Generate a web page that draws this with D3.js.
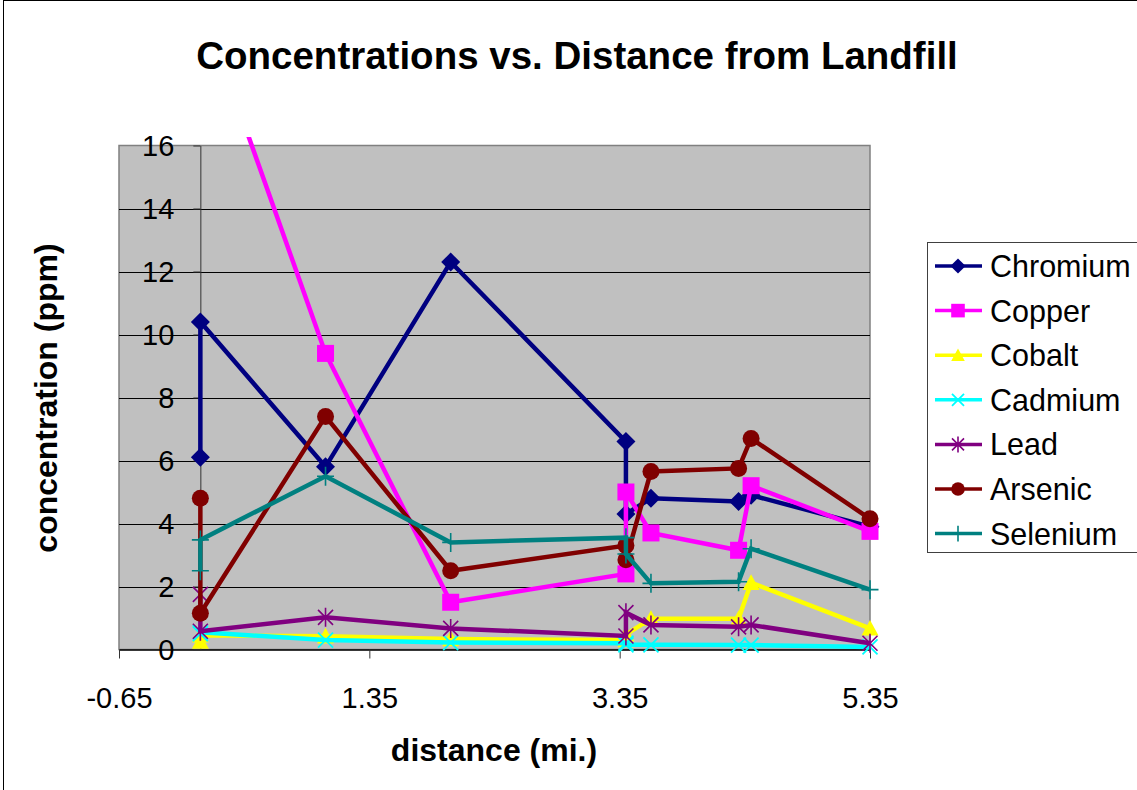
<!DOCTYPE html>
<html><head><meta charset="utf-8">
<script src="https://cdn.jsdelivr.net/npm/d3@7"></script>
<style>
body{margin:0;background:#fff}
svg{display:block;font-family:"Liberation Sans",Arial,sans-serif}
</style>
</head><body>
<svg id="chart" width="1137" height="790"></svg>
<script>
// ---------- data ----------
const distances = [0, 0, 1, 2, 3.4, 3.4, 3.6, 4.3, 4.4, 5.35];
const seriesNames = ["Chromium", "Copper", "Cobalt", "Cadmium", "Lead", "Arsenic", "Selenium"];
const chromium = [6.1, 10.4, 5.8, 12.3, 6.6, 4.3, 4.8, 4.7, 4.9, 3.9];
const copper   = [18.5, 20.6, 9.4, 1.5, 2.4, 5.0, 3.7, 3.15, 5.2, 3.75];
const cobalt   = [0.25, 0.45, 0.42, 0.33, 0.3, 0.48, 0.98, 0.98, 2.12, 0.67];
const cadmium  = [0.5, 0.55, 0.3, 0.22, 0.2, 0.15, 0.15, 0.14, 0.14, 0.08];
const lead     = [1.75, 0.58, 1.02, 0.67, 0.43, 1.17, 0.78, 0.72, 0.78, 0.2];
const arsenic  = [4.8, 1.15, 7.4, 2.5, 3.3, 2.85, 5.65, 5.75, 6.7, 4.15];
const selenium = [2.5, 3.48, 5.5, 3.4, 3.55, 3.03, 2.1, 2.15, 3.2, 1.9];
const seriesColors = ["#000080", "#FF00FF", "#FFFF00", "#00FFFF", "#800080", "#800000", "#008080"];
const seriesMarkers = ["diamond", "square", "triangle", "x", "asterisk", "circle", "plus"];
const yTickValues = [0, 2, 4, 6, 8, 10, 12, 14, 16];
const xTickValues = [-0.65, 1.35, 3.35, 5.35];
const xTickLabels = ["-0.65", "1.35", "3.35", "5.35"];
const titleText = "Concentrations vs. Distance from Landfill";
const xTitle = "distance (mi.)";
const yTitle = "concentration (ppm)";

const seriesValues = [chromium, copper, cobalt, cadmium, lead, arsenic, selenium];
const series = seriesNames.map((name, i) => ({
  name, color: seriesColors[i], marker: seriesMarkers[i],
  points: distances.map((d, j) => ({x: d, y: seriesValues[i][j]}))
}));

// ---------- layout ----------
const svg = d3.select("#chart");
const plot = {left: 119, right: 870, top: 145.5, bottom: 649.5};
const x = d3.scaleLinear().domain([-0.65, 5.35]).range([plot.left, plot.right]);
const y = d3.scaleLinear().domain([0, 16]).range([plot.bottom, plot.top]);

// chart area border
svg.append("rect").attr("x", 3.5).attr("y", 0.5).attr("width", 1200).attr("height", 900)
  .attr("fill", "none").attr("stroke", "#000").attr("stroke-width", 1);

// plot background
svg.append("rect").attr("x", plot.left).attr("y", plot.top)
  .attr("width", plot.right - plot.left).attr("height", plot.bottom - plot.top)
  .attr("fill", "#C0C0C0").attr("stroke", "#808080").attr("stroke-width", 1.5);

// gridlines
svg.append("g").selectAll("line").data(yTickValues.filter(v => v > 0 && v < 16)).join("line")
  .attr("x1", plot.left).attr("x2", plot.right)
  .attr("y1", d => Math.round(y(d)) + 0.5).attr("y2", d => Math.round(y(d)) + 0.5)
  .attr("stroke", "#000").attr("stroke-width", 1);

// x axis
const xAxis = svg.append("g").attr("transform", `translate(0,${plot.bottom})`)
  .call(d3.axisBottom(x).tickValues(xTickValues).tickFormat((d, i) => xTickLabels[i])
    .tickSize(9).tickSizeOuter(0).tickPadding(0));
xAxis.select(".domain").attr("stroke", "#000").attr("stroke-width", 1.5);
xAxis.selectAll(".tick line").attr("stroke", "#333");
xAxis.selectAll(".tick text").attr("font-size", 29).attr("fill", "#000")
  .attr("font-family", "Liberation Sans, Arial, sans-serif")
  .attr("y", 58).attr("dy", 0);

// y axis at x = 0
const yAxis = svg.append("g").attr("transform", `translate(${x(0)},0)`)
  .call(d3.axisLeft(y).tickValues(yTickValues).tickSize(7).tickSizeOuter(0).tickPadding(19));
yAxis.select(".domain").attr("stroke", "#333").attr("stroke-width", 1);
yAxis.selectAll(".tick line").attr("stroke", "#333");
yAxis.selectAll(".tick text").attr("font-size", 29).attr("fill", "#000")
  .attr("font-family", "Liberation Sans, Arial, sans-serif").attr("dy", "0.36em");

// marker factory
function drawMarker(g, type, color, s) {
  s = s || 1;
  if (type === "diamond") {
    const r = 9.5 * s;
    g.append("path").attr("d", `M0,${-r}L${r},0L0,${r}L${-r},0Z`).attr("fill", color);
  } else if (type === "square") {
    const h = 8.5 * s;
    g.append("rect").attr("x", -h).attr("y", -h).attr("width", 2 * h).attr("height", 2 * h).attr("fill", color);
  } else if (type === "triangle") {
    const h = 8.5 * s;
    g.append("path").attr("d", `M0,${-h}L${h},${h * 0.85}L${-h},${h * 0.85}Z`).attr("fill", color);
  } else if (type === "circle") {
    g.append("circle").attr("r", 8.5 * s).attr("fill", color);
  } else if (type === "x") {
    const h = 7.5 * s;
    g.append("path").attr("d", `M${-h},${-h}L${h},${h}M${-h},${h}L${h},${-h}`)
      .attr("stroke", color).attr("stroke-width", 1.8).attr("fill", "none");
  } else if (type === "asterisk") {
    const h = 7.5 * s;
    g.append("path").attr("d", `M${-h},${-h}L${h},${h}M${-h},${h}L${h},${-h}M0,${-h - 2}L0,${h + 2}`)
      .attr("stroke", color).attr("stroke-width", 1.6).attr("fill", "none");
  } else if (type === "plus") {
    const h = 8.5 * s;
    g.append("path").attr("d", `M${-h},0L${h},0M0,${-h - 1}L0,${h + 1}`)
      .attr("stroke", color).attr("stroke-width", 1.6).attr("fill", "none");
  }
}

// clip (lines may run a little above the plot top as in the original)
svg.append("clipPath").attr("id", "clip").append("rect")
  .attr("x", 0).attr("y", 137).attr("width", 1137).attr("height", 700);

const line = d3.line().x(d => x(d.x)).y(d => y(d.y));
const dataG = svg.append("g").attr("clip-path", "url(#clip)");
series.forEach(s => {
  const g = dataG.append("g");
  g.append("path").attr("d", line(s.points)).attr("fill", "none")
    .attr("stroke", s.color).attr("stroke-width", 4.5).attr("stroke-linejoin", "miter");
  s.points.forEach(p => {
    const m = g.append("g").attr("transform", `translate(${x(p.x)},${y(p.y)})`);
    drawMarker(m, s.marker, s.color, 1);
  });
});

// title
svg.append("text").attr("x", 577).attr("y", 69).attr("text-anchor", "middle")
  .attr("font-size", 38.5).attr("font-weight", "bold").text(titleText);
// axis titles
svg.append("text").attr("x", 494).attr("y", 761).attr("text-anchor", "middle")
  .attr("font-size", 32).attr("font-weight", "bold").text(xTitle);
svg.append("text").attr("transform", "translate(57,398) rotate(-90)").attr("text-anchor", "middle")
  .attr("font-size", 32).attr("font-weight", "bold").text(yTitle);

// legend
const legend = svg.append("g");
legend.append("rect").attr("x", 927.5).attr("y", 242.5).attr("width", 220).attr("height", 310)
  .attr("fill", "#fff").attr("stroke", "#404040").attr("stroke-width", 1);
series.forEach((s, i) => {
  const cy = 266 + i * 44.6;
  const g = legend.append("g").attr("transform", `translate(0,${cy})`);
  g.append("line").attr("x1", 935).attr("x2", 982).attr("stroke", s.color).attr("stroke-width", 3.5);
  const m = g.append("g").attr("transform", "translate(958,0)");
  drawMarker(m, s.marker, s.color, 0.8);
  g.append("text").attr("x", 990).attr("dy", "0.36em").attr("font-size", 30.5).text(s.name);
});
</script>
</body></html>
